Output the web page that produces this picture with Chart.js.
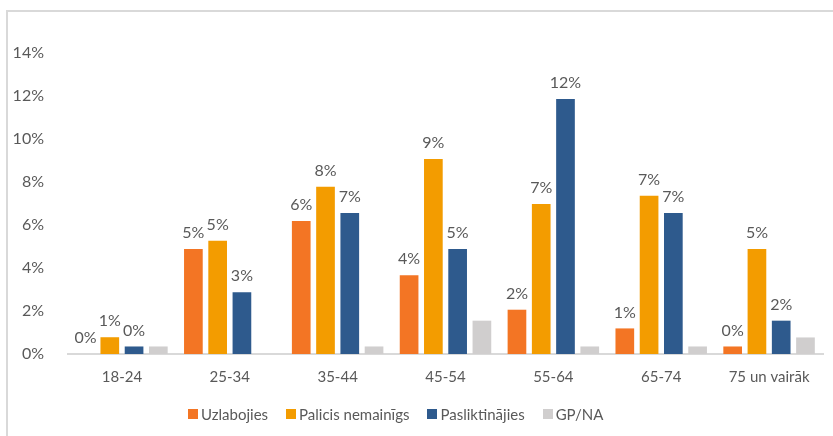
<!DOCTYPE html>
<html>
<head>
<meta charset="utf-8">
<script src="https://cdn.jsdelivr.net/npm/chart.js@4.4.1/dist/chart.umd.min.js"></script>
<style>
  html,body{margin:0;padding:0;background:#fff;}
  #wrap{position:relative;width:833px;height:436px;overflow:hidden;font-family:Lato,'Open Sans',sans-serif;}
  #frame{position:absolute;left:6px;top:10px;width:840px;height:440px;border:2px solid #d9d9d9;border-right:none;border-bottom:none;box-sizing:border-box;}
  canvas{position:absolute;left:0;top:0;}
  #legend{position:absolute;left:188px;top:405px;display:flex;font-size:15px;line-height:18px;color:#595959;white-space:nowrap;}
  #legend .item{display:flex;align-items:center;margin-right:18px;}
  #legend .box{width:10px;height:10px;margin-right:3px;}
</style>
</head>
<body>
<div id="wrap">
  <div id="frame"></div>
  <canvas id="chart" width="833" height="436"></canvas>
  <div id="legend"></div>
</div>
<script>
// ===== data =====
const ageGroups = ["18-24","25-34","35-44","45-54","55-64","65-74","75 un vairāk"];
const seriesNames = ["Uzlabojies","Palicis nemainīgs","Pasliktinājies","GP/NA"];
const uzlabojies     = [0, 4.88, 6.19, 3.66, 2.06, 1.19, 0.35];
const palicis        = [0.78, 5.27, 7.78, 9.07, 6.98, 7.36, 4.88];
const pasliktinajies = [0.35, 2.87, 6.56, 4.88, 11.86, 6.56, 1.55];
const gpna           = [0.35, 0, 0.35, 1.55, 0.35, 0.35, 0.77];
const yTicks = [0,2,4,6,8,10,12,14];

const colors = ["#F37524","#F39C00","#2E5A8D","#D0CECE"];
const textColor = "#595959";
const fontFamily = "Lato, 'Open Sans', sans-serif";

// =============== value labels (first three series only) ===============
const valueLabels = {
  id: "valueLabels",
  afterDatasetsDraw(chart){
    const ctx = chart.ctx;
    ctx.save();
    ctx.font = "16px " + fontFamily;
    ctx.fillStyle = textColor;
    ctx.textAlign = "center";
    ctx.textBaseline = "bottom";
    [0,1,2].forEach(i=>{
      const meta = chart.getDatasetMeta(i);
      meta.data.forEach((bar,j)=>{
        const v = chart.data.datasets[i].data[j];
        ctx.fillText(Math.round(v)+"%", bar.x, bar.y-8);
      });
    });
    ctx.restore();
  }
};

const allSeries = [uzlabojies, palicis, pasliktinajies, gpna];

new Chart(document.getElementById("chart"),{
  type:"bar",
  data:{
    labels: ageGroups,
    datasets: allSeries.map((d,i)=>({
      label: seriesNames[i],
      data: d,
      backgroundColor: colors[i],
      borderWidth: 0,
      barPercentage: 0.77,
      categoryPercentage: 0.9
    }))
  },
  options:{
    responsive:false,
    animation:false,
    layout:{padding:{left:10,right:10,top:53,bottom:36}},
    plugins:{
      legend:{display:false},
      tooltip:{enabled:false}
    },
    scales:{
      x:{
        grid:{display:false, drawTicks:false},
        border:{display:true,color:"#d9d9d9",width:2},
        ticks:{color:textColor,font:{family:fontFamily,size:15},padding:14,maxRotation:0}
      },
      y:{
        min:0,max:14,
        afterBuildTicks(s){ s.ticks = yTicks.map(v=>({value:v})); },
        afterFit(s){ s.width = 58; },
        grid:{display:false},
        border:{display:false},
        ticks:{color:textColor,font:{family:fontFamily,size:16},padding:16,callback:v=>v+"%"}
      }
    }
  },
  plugins:[valueLabels]
});

// =============== legend ===============
document.getElementById("legend").innerHTML = seriesNames.map((n,i)=>
  `<div class="item"><span class="box" style="background:${colors[i]}"></span>${n}</div>`).join("");
</script>
</body>
</html>
